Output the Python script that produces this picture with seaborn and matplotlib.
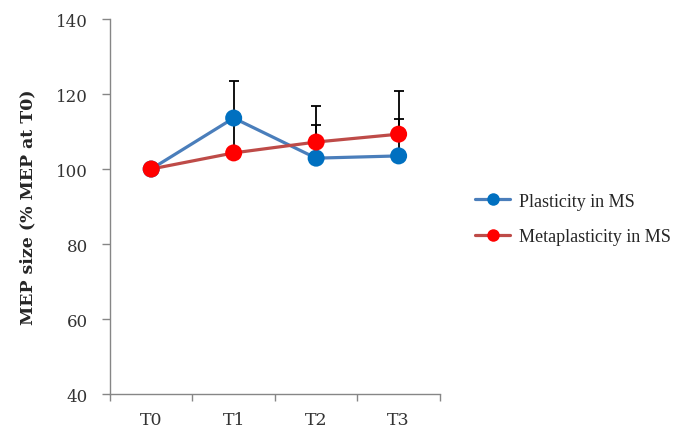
import matplotlib
matplotlib.use("Agg")
import matplotlib.pyplot as plt
from matplotlib.lines import Line2D
import numpy as np
import pandas as pd
import seaborn as sns

# ── Data ──────────────────────────────────────────────────────────────────
timepoints = ["T0", "T1", "T2", "T3"]
plasticity = [100.0, 113.6, 102.9, 103.5]
plasticity_err = [0.0, 9.9, 13.9, 17.3]
metaplasticity = [100.0, 104.3, 107.2, 109.3]
metaplasticity_err = [0.0, 9.3, 4.5, 4.0]

series_names = ["Plasticity in MS", "Metaplasticity in MS"]
line_colors = {"Plasticity in MS": "#4a7ebb", "Metaplasticity in MS": "#be4b48"}
marker_colors = {"Plasticity in MS": "#0070c0", "Metaplasticity in MS": "#ff0000"}

df = pd.DataFrame({
    "time": timepoints * 2,
    "value": plasticity + metaplasticity,
    "err": plasticity_err + metaplasticity_err,
    "series": [series_names[0]] * 4 + [series_names[1]] * 4,
})
df["pos"] = df["time"].map({t: i for i, t in enumerate(timepoints)})

sns.set_style("white")
plt.rcParams["font.family"] = ["DejaVu Serif"]

fig = plt.figure(figsize=(6.83, 4.31), dpi=100)
ax = fig.add_axes([0.161, 0.0835, 0.483, 0.870])

# lines
sns.lineplot(data=df, x="pos", y="value", hue="series", palette=line_colors,
             linewidth=2.3, legend=False, ax=ax, zorder=2)

# upward-only error bars
for name in series_names:
    sub = df[df["series"] == name]
    ax.errorbar(sub["pos"], sub["value"], yerr=[np.zeros(len(sub)), sub["err"]],
                fmt="none", ecolor="black", elinewidth=1.3, capsize=3.5,
                capthick=1.3, zorder=3)

# markers on top
sns.scatterplot(data=df, x="pos", y="value", hue="series", palette=marker_colors,
                s=150, edgecolor="none", legend=False, ax=ax, zorder=4)

ax.set_xlim(-0.5, 3.5)
ax.set_ylim(40, 140)
ax.set_yticks(range(40, 141, 20))
ax.set_xticks([0, 1, 2, 3])
ax.set_xticklabels(timepoints)
ax.set_xticks([-0.5, 0.5, 1.5, 2.5, 3.5], minor=True)
ax.tick_params(bottom=True, left=True, which="both")
ax.tick_params(axis="x", which="major", length=0, pad=12, labelsize=12.5, colors="#333333")
ax.tick_params(axis="x", which="minor", length=5, width=1, color="#868686", direction="out")
ax.tick_params(axis="y", length=6, width=1, color="#868686", direction="out",
               labelsize=12, labelcolor="#333333", pad=10)
ax.set_xlabel("")
ax.set_ylabel("MEP size (% MEP at T0)", fontsize=12.5, fontweight="bold", labelpad=14)

for side in ["top", "right"]:
    ax.spines[side].set_visible(False)
for side in ["left", "bottom"]:
    ax.spines[side].set_color("#868686")
    ax.spines[side].set_linewidth(1.0)

handles = [
    Line2D([0], [0], color=line_colors[n], lw=2.3, marker="o", markersize=9,
           markerfacecolor=marker_colors[n], markeredgecolor="none")
    for n in series_names
]
fig.legend(handles, series_names, loc="center left",
           bbox_to_anchor=(0.672, 0.49), frameon=False,
           prop={"family": "Liberation Serif", "size": 13},
           handlelength=1.95, labelspacing=1.0, handletextpad=0.5)

fig.savefig("out.png", dpi=100)
